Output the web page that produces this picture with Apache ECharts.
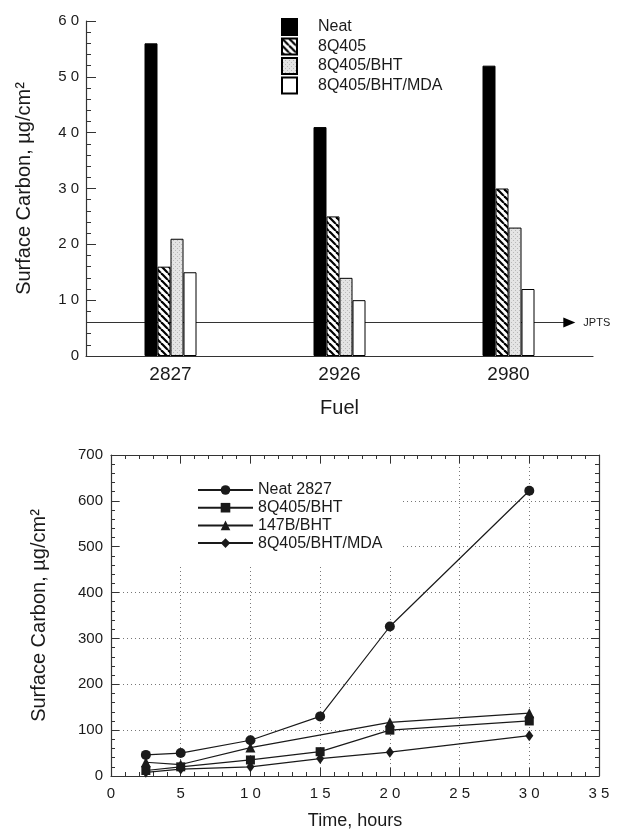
<!DOCTYPE html>
<html>
<head>
<meta charset="utf-8">
<script src="https://cdn.jsdelivr.net/npm/echarts@6/dist/echarts.min.js"></script>
<style>
  html, body { margin: 0; padding: 0; background: #fff; }
  #chart { width: 632px; height: 832px; }
</style>
</head>
<body>
<div id="chart"></div>
<script>
/*** 数据 ***/
// 上图：各燃料表面碳（柱状）
var fuels = ['2827', '2926', '2980'];
var neat = [56, 41, 52];
var q405 = [16, 25, 30];
var q405Bht = [21, 14, 23];
var q405BhtMda = [15, 10, 12];
var jptsLevel = 6;            // JPTS 参考线
var jptsSpan = [-0.5, 2.36];  // 参考线起止（类目序号）

// 下图：表面碳随时间变化（折线）
var neat2827 = [[2.5, 46], [5, 50], [10, 78], [15, 130], [20, 326], [30, 622]];
var bht8q = [[2.5, 12], [5, 20], [10, 35], [15, 53], [20, 100], [30, 120]];
var bht147 = [[2.5, 30], [5, 25], [10, 62], [20, 117], [30, 137]];
var mda8q = [[2.5, 8], [5, 15], [10, 20], [15, 38], [20, 52], [30, 88]];

/*** 填充图案 ***/
function hatchPattern() {
  var c = document.createElement('canvas');
  c.width = 7; c.height = 7;
  var ctx = c.getContext('2d');
  ctx.fillStyle = '#fff';
  ctx.fillRect(0, 0, 7, 7);
  ctx.strokeStyle = '#000';
  ctx.lineWidth = 2.2;
  [-7, 0, 7].forEach(function (k) {
    ctx.beginPath();
    ctx.moveTo(k, 0);
    ctx.lineTo(k + 7, 7);
    ctx.stroke();
  });
  return { image: c, repeat: 'repeat' };
}
function stipplePattern() {
  var c = document.createElement('canvas');
  c.width = 4; c.height = 4;
  var ctx = c.getContext('2d');
  ctx.fillStyle = '#e4e4e4';
  ctx.fillRect(0, 0, 4, 4);
  ctx.fillStyle = '#b8b8b8';
  ctx.fillRect(1, 0, 1, 1);
  ctx.fillRect(3, 2, 1, 1);
  return { image: c, repeat: 'repeat' };
}

var FONT = 'Liberation Sans';
var INK = '#1a1a1a';
var LINE_TAG = 'L:';   // 折线系列名前缀，避免与柱状系列重名
function spaced(v) { return String(v).split('').join(' '); }

var dotted = { color: '#777', width: 1, type: [1, 3] };
var inkLine = { color: INK, width: 1.2 };

function barSeries(name, data, color) {
  return {
    name: name, type: 'bar', xAxisIndex: 0, yAxisIndex: 0,
    data: data, barWidth: 13, barGap: '0%', z: 3,
    itemStyle: { color: color, borderColor: '#000', borderWidth: 1 }
  };
}
function lineSeries(name, data, symbol, size) {
  return {
    name: LINE_TAG + name, type: 'line', xAxisIndex: 2, yAxisIndex: 1,
    data: data, symbol: symbol, symbolSize: size,
    lineStyle: inkLine, itemStyle: { color: INK }
  };
}

var myChart = echarts.init(document.getElementById('chart'), null, { renderer: 'canvas' });

var option = {
  backgroundColor: '#fff',
  animation: false,
  textStyle: { fontFamily: FONT, color: INK },
  grid: [
    { left: 86, top: 21, right: 39, height: 335 },
    { left: 111, top: 455, right: 33, height: 321 }
  ],
  legend: [
    {
      // 上图图例
      data: ['Neat', '8Q405', '8Q405/BHT', '8Q405/BHT/MDA'],
      orient: 'vertical', left: 276, top: 13,
      icon: 'rect',
      itemWidth: 15, itemHeight: 16, itemGap: 1.5,
      textStyle: { fontFamily: FONT, fontSize: 16, lineHeight: 16, color: INK, padding: [0, 0, 0, 16] },
      selectedMode: false
    },
    {
      // 下图图例（白底遮住网格）
      data: ['Neat 2827', '8Q405/BHT', '147B/BHT', '8Q405/BHT/MDA'].map(function (n) { return LINE_TAG + n; }),
      formatter: function (n) { return n.replace(LINE_TAG, ''); },
      orient: 'vertical', left: 121, top: 465,
      padding: [17, 20, 14, 76],
      backgroundColor: '#fff',
      itemWidth: 55, itemHeight: 12, itemGap: 1.7,
      textStyle: { fontFamily: FONT, fontSize: 16, lineHeight: 16, color: INK },
      selectedMode: false
    }
  ],
  xAxis: [
    {
      type: 'category', gridIndex: 0, data: fuels,
      axisLine: { onZero: false, lineStyle: { color: '#333', width: 1.2 } },
      axisTick: { show: false },
      axisLabel: { fontSize: 19, color: INK, margin: 9, fontFamily: FONT },
      name: 'Fuel', nameLocation: 'middle', nameGap: 42,
      nameTextStyle: { fontSize: 20, color: INK, fontFamily: FONT }
    },
    {
      type: 'value', gridIndex: 0, min: -0.5, max: 2.5, show: false
    },
    {
      type: 'value', gridIndex: 1, min: 0, max: 35, interval: 5,
      axisLine: { onZero: false, lineStyle: { color: '#333', width: 1.2 } },
      axisTick: { inside: true, length: 8, lineStyle: { color: '#333' } },
      minorTick: { show: true, splitNumber: 5, length: 4, lineStyle: { color: '#333' } },
      splitLine: { show: true, lineStyle: dotted },
      axisLabel: { fontSize: 15, color: INK, margin: 10, formatter: spaced, fontFamily: FONT },
      name: 'Time, hours', nameLocation: 'middle', nameGap: 36,
      nameTextStyle: { fontSize: 18, color: INK, fontFamily: FONT }
    },
    {
      type: 'value', gridIndex: 1, min: 0, max: 35, interval: 5, position: 'top',
      axisLine: { onZero: false, lineStyle: { color: '#333', width: 1.2 } },
      axisTick: { inside: true, length: 8, lineStyle: { color: '#333' } },
      minorTick: { show: true, splitNumber: 5, length: 4, lineStyle: { color: '#333' } },
      splitLine: { show: false },
      axisLabel: { show: false }
    }
  ],
  yAxis: [
    {
      type: 'value', gridIndex: 0, min: 0, max: 60, interval: 10,
      axisLine: { show: true, onZero: false, lineStyle: { color: '#333', width: 1.2 } },
      axisTick: { show: true, inside: true, length: 10, lineStyle: { color: '#333' } },
      minorTick: { show: true, splitNumber: 5, length: 5, lineStyle: { color: '#333' } },
      splitLine: { show: false },
      axisLabel: { fontSize: 15, color: INK, margin: 7, formatter: spaced, fontFamily: FONT },
      name: 'Surface Carbon, µg/cm²', nameLocation: 'middle', nameGap: 52,
      nameTextStyle: { fontSize: 20, color: INK, fontFamily: FONT }
    },
    {
      type: 'value', gridIndex: 1, min: 0, max: 700, interval: 100,
      axisLine: { show: true, onZero: false, lineStyle: { color: '#333', width: 1.2 } },
      axisTick: { show: true, inside: true, length: 8, lineStyle: { color: '#333' } },
      minorTick: { show: true, splitNumber: 5, length: 4, lineStyle: { color: '#333' } },
      splitLine: { show: true, lineStyle: dotted },
      axisLabel: { fontSize: 15, color: INK, margin: 8, fontFamily: FONT },
      name: 'Surface Carbon, µg/cm²', nameLocation: 'middle', nameGap: 62,
      nameTextStyle: { fontSize: 20, color: INK, fontFamily: FONT }
    },
    {
      type: 'value', gridIndex: 1, min: 0, max: 700, interval: 100, position: 'right',
      axisLine: { show: true, onZero: false, lineStyle: { color: '#333', width: 1.2 } },
      axisTick: { show: true, inside: true, length: 8, lineStyle: { color: '#333' } },
      minorTick: { show: true, splitNumber: 5, length: 4, lineStyle: { color: '#333' } },
      splitLine: { show: false },
      axisLabel: { show: false }
    }
  ],
  series: [
    barSeries('Neat', neat, '#000'),
    barSeries('8Q405', q405, hatchPattern()),
    barSeries('8Q405/BHT', q405Bht, stipplePattern()),
    barSeries('8Q405/BHT/MDA', q405BhtMda, '#fff'),
    {
      // JPTS 参考线（在柱子后面）
      name: 'JPTS', type: 'line', xAxisIndex: 1, yAxisIndex: 0, z: 1,
      data: [[jptsSpan[0], jptsLevel], [jptsSpan[1], jptsLevel]],
      symbol: function (v) { return v[0] === jptsSpan[1] ? 'triangle' : 'none'; },
      symbolSize: [10, 12], symbolRotate: -90,
      lineStyle: { color: '#333', width: 1 },
      itemStyle: { color: '#000' },
      endLabel: { show: true, formatter: 'JPTS', fontSize: 11, color: INK, distance: 14, fontFamily: FONT },
      legendHoverLink: false
    },
    lineSeries('Neat 2827', neat2827, 'circle', 10),
    lineSeries('8Q405/BHT', bht8q, 'rect', 9),
    lineSeries('147B/BHT', bht147, 'triangle', 10),
    lineSeries('8Q405/BHT/MDA', mda8q, 'diamond', [8, 11])
  ]
};

myChart.setOption(option);
</script>
</body>
</html>
